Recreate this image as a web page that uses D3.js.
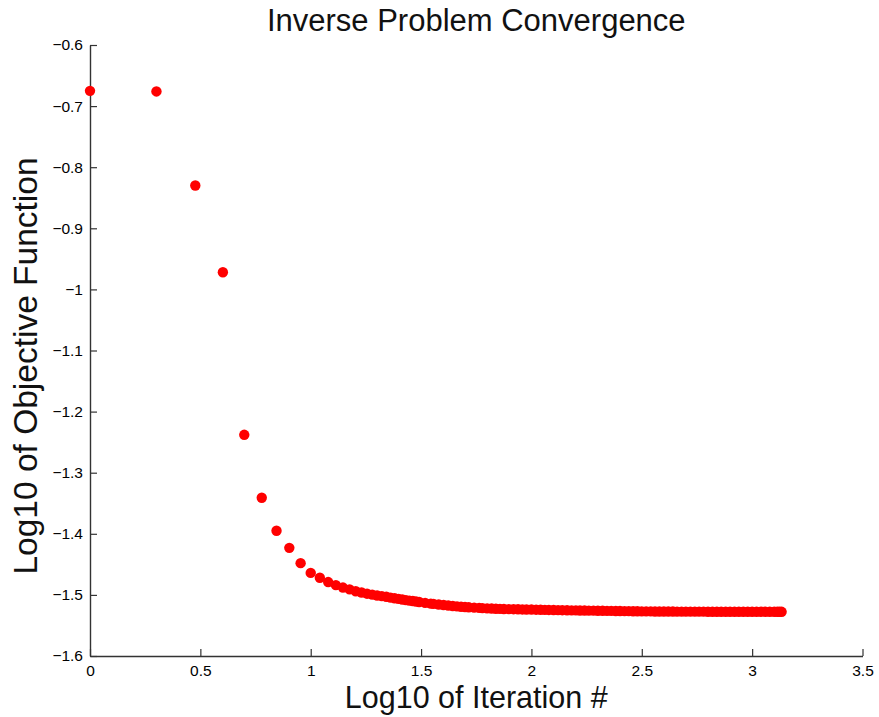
<!DOCTYPE html>
<html>
<head>
<meta charset="utf-8">
<script src="https://cdn.jsdelivr.net/npm/d3@7"></script>
<style>
  html, body { margin: 0; padding: 0; background: #fff; }
  svg { display: block; font-family: "Liberation Sans", Arial, Helvetica, sans-serif; }
</style>
</head>
<body>
<svg id="chart" width="879" height="717"></svg>
<script>
// ---- Data ----
const chartTitle = "Inverse Problem Convergence";
const xLabel = "Log10 of Iteration #";
const yLabel = "Log10 of Objective Function";

// iteration numbers that are drawn (x = log10(iteration))
const iterations = [
  1, 2, 3, 4, 5, 6, 7, 8, 9, 10,
  11, 12, 13, 14, 15, 16, 17, 18, 19, 20,
  21, 22, 23, 24, 25, 26, 27, 28, 29, 30,
  31, 33, 35, 36, 38, 40, 42, 44, 46, 48,
  50, 52, 55, 58, 60, 63, 66, 69, 72, 75,
  79, 83, 87, 91, 95, 100, 105, 110, 115, 120,
  126, 132, 138, 145, 152, 159, 166, 174, 182, 191,
  200, 210, 220, 230, 241, 252, 264, 276, 289, 302,
  316, 331, 347, 363, 380, 398, 417, 437, 457, 479,
  501, 525, 550, 575, 602, 631, 661, 692, 724, 759,
  794, 832, 871, 912, 955, 1000, 1047, 1096, 1148, 1202,
  1259, 1300, 1330, 1360
];

// log10 of the objective function at each iteration above
const logObjective = [
  -0.675, -0.676, -0.830, -0.972, -1.238, -1.341, -1.395, -1.423, -1.448, -1.464,
  -1.472, -1.479, -1.484, -1.488, -1.491, -1.494, -1.496, -1.498, -1.4995, -1.501,
  -1.502, -1.503, -1.5045, -1.5055, -1.5065, -1.5075, -1.5085, -1.5093, -1.5101, -1.5109,
  -1.5116, -1.513, -1.5142, -1.5147, -1.5157, -1.5166, -1.5174, -1.5181, -1.5188, -1.5194,
  -1.5199, -1.5203, -1.5208, -1.5213, -1.5216, -1.522, -1.5223, -1.5226, -1.5228, -1.523,
  -1.5232, -1.5234, -1.5236, -1.5238, -1.5239, -1.524, -1.5242, -1.5243, -1.5245, -1.5246,
  -1.5248, -1.5249, -1.525, -1.5252, -1.5253, -1.5254, -1.5255, -1.5256, -1.5257, -1.5258,
  -1.5259, -1.526, -1.5261, -1.5262, -1.5263, -1.5264, -1.5265, -1.5266, -1.5267, -1.5268,
  -1.5269, -1.527, -1.527, -1.5271, -1.5271, -1.5272, -1.5272, -1.5272, -1.5273, -1.5273,
  -1.5273, -1.5274, -1.5274, -1.5274, -1.5274, -1.5275, -1.5275, -1.5275, -1.5275, -1.5275,
  -1.5276, -1.5276, -1.5276, -1.5276, -1.5276, -1.5276, -1.5276, -1.5277, -1.5277, -1.5277,
  -1.5277, -1.5277, -1.5277, -1.5277
];

const xTickValues = [0, 0.5, 1, 1.5, 2, 2.5, 3, 3.5];
const xTickLabels = ["0", "0.5", "1", "1.5", "2", "2.5", "3", "3.5"];
const yTickValues = [-1.6, -1.5, -1.4, -1.3, -1.2, -1.1, -1, -0.9, -0.8, -0.7, -0.6];
const yTickLabels = ["\u22121.6", "\u22121.5", "\u22121.4", "\u22121.3", "\u22121.2", "\u22121.1", "\u22121", "\u22120.9", "\u22120.8", "\u22120.7", "\u22120.6"];

// ---- Layout ----
const plot = { left: 90, right: 862.5, top: 45, bottom: 656 };
const svg = d3.select("#chart");

const x = d3.scaleLinear().domain([0, 3.5]).range([plot.left, plot.right]);
const y = d3.scaleLinear().domain([-1.6, -0.6]).range([plot.bottom, plot.top]);

const axisColor = "#333";

// x axis (ticks pointing inward / up)
const xAxis = d3.axisBottom(x)
  .tickValues(xTickValues)
  .tickFormat((d, i) => xTickLabels[i])
  .tickSizeInner(-7)
  .tickSizeOuter(0)
  .tickPadding(9);

const gx = svg.append("g")
  .attr("transform", `translate(0,${plot.bottom})`)
  .call(xAxis);

// y axis (ticks pointing inward / right)
const yAxis = d3.axisLeft(y)
  .tickValues(yTickValues)
  .tickFormat((d, i) => yTickLabels[i])
  .tickSizeInner(-7)
  .tickSizeOuter(0)
  .tickPadding(7);

const gy = svg.append("g")
  .attr("transform", `translate(${plot.left},0)`)
  .call(yAxis);

[gx, gy].forEach(g => {
  g.select(".domain").attr("stroke", axisColor).attr("stroke-width", 1.4);
  g.selectAll(".tick line").attr("stroke", axisColor).attr("stroke-width", 1.2);
  g.selectAll(".tick text")
    .attr("fill", "#000")
    .style("font-family", "'Liberation Sans', Arial, sans-serif")
    .style("font-size", "15.5px");
});

// ---- Points ----
const points = iterations.map((it, i) => ({ it, v: logObjective[i] }));
svg.append("g")
  .selectAll("circle")
  .data(points)
  .join("circle")
  .attr("cx", d => x(Math.log10(d.it)))
  .attr("cy", d => y(d.v))
  .attr("r", 5.2)
  .attr("fill", "#ff0000");

// ---- Titles ----
svg.append("text")
  .attr("x", (plot.left + plot.right) / 2)
  .attr("y", 31)
  .attr("text-anchor", "middle")
  .style("font-size", "31px")
  .attr("fill", "#111")
  .text(chartTitle);

svg.append("text")
  .attr("x", (plot.left + plot.right) / 2)
  .attr("y", 708)
  .attr("text-anchor", "middle")
  .style("font-size", "30.5px")
  .attr("fill", "#111")
  .text(xLabel);

svg.append("text")
  .attr("transform", `translate(37,366) rotate(-90)`)
  .attr("text-anchor", "middle")
  .style("font-size", "33.5px")
  .attr("fill", "#111")
  .text(yLabel);
</script>
</body>
</html>
